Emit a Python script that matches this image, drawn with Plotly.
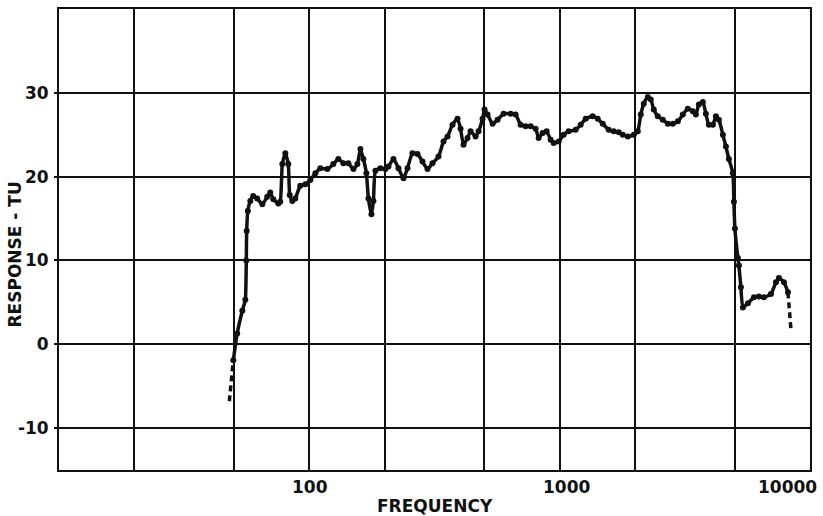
import math
import plotly.graph_objects as go

# ---- data ----
freq_low_dash = [47.9, 49.2, 49.7]
resp_low_dash = [-6.8, -2.6, -1.9]

freq = [49.7, 51.5, 54.0, 55.5, 56.0, 56.2, 56.8, 58.1, 59.7, 61.9, 64.9, 67.9, 69.8, 71.8, 75.2,
        76.5, 78.0, 80.2, 82.4, 83.5, 85.5, 87.9, 92.0, 96.4, 100.9, 105.7, 110.7, 118.0, 124.7,
        130.6, 136.8, 143.2, 150.0, 155.6, 160.0, 164.4, 169.0, 172.2, 177.0, 180.3, 183.7, 192.3,
        201.4, 207.0, 216.8, 227.0, 237.7, 246.6, 258.2, 270.4, 283.1, 296.5, 310.5, 328.1, 343.6,
        356.5, 373.3, 390.8, 401.8, 413.0, 428.5, 440.6, 461.3, 474.3, 492.0, 501.2, 515.2, 539.5,
        564.9, 597.0, 636.8, 666.8, 698.2, 731.1, 765.6, 801.7, 824.2, 855.1, 887.2, 920.4, 946.2,
        990.8, 1037.5, 1086.4, 1158.8, 1213.4, 1270.6, 1355.2, 1419.1, 1485.9, 1570.4, 1644.4,
        1721.9, 1786.5, 1870.8, 1977.0, 2051.2, 2108.6, 2167.6, 2249.1, 2312.1, 2376.8, 2466.0,
        2582.2, 2703.9, 2831.3, 2964.8, 3104.5, 3250.9, 3404.1, 3499.5, 3597.5, 3732.5, 3837.1,
        3944.6, 4092.6, 4207.3, 4325.1, 4487.4, 4613.2, 4742.4, 4920.4, 4966.0, 5012.0, 5152.0,
        5200.0, 5296.0, 5395.0, 5649.0, 5970.0, 6252.0, 6546.0, 6982.0, 7311.0, 7516.0, 7870.0,
        8166.0]
resp = [-1.9, 1.3, 4.0, 5.3, 10.0, 13.5, 15.9, 17.1, 17.7, 17.4, 16.7, 17.6, 18.1, 17.3, 16.8,
        17.0, 21.5, 22.8, 21.5, 17.8, 17.1, 17.4, 18.9, 19.1, 19.6, 20.4, 21.0, 20.9, 21.5,
        22.1, 21.6, 21.6, 20.9, 21.5, 23.3, 22.1, 20.4, 17.4, 15.5, 17.1, 20.7, 21.0,
        20.9, 21.2, 22.1, 21.0, 19.8, 21.0, 22.8, 22.7, 21.8, 20.9, 21.6, 22.4, 24.2,
        24.8, 26.2, 26.9, 25.7, 23.8, 24.6, 25.4, 24.8, 25.4, 26.9, 28.0, 27.4, 26.3,
        26.8, 27.5, 27.5, 27.4, 26.2, 26.0, 26.0, 25.7, 24.6, 25.2, 25.4, 24.4, 24.0,
        24.2, 25.0, 25.4, 25.6, 26.2, 26.9, 27.2, 26.9, 26.3, 25.6, 25.4,
        25.3, 25.0, 24.8, 25.0, 25.4, 27.4, 28.7, 29.5, 29.2, 28.0, 27.2,
        26.8, 26.3, 26.3, 26.6, 27.4, 28.1, 27.8, 27.4, 28.6, 28.9, 27.5,
        26.2, 26.2, 27.2, 26.8, 25.0, 23.6, 22.1, 20.4, 17.0, 13.8, 10.3,
        9.4, 6.8, 4.4, 4.9, 5.6, 5.7, 5.6, 6.0, 7.4, 7.9, 7.4,
        6.2]

freq_high_dash = [8166.0, 8300.0, 8395.0]
resp_high_dash = [6.2, 4.0, 1.7]

x_grid = [10, 20, 50, 100, 200, 500, 1000, 2000, 5000, 10000]
x_labels = {100: "100", 1000: "1000", 10000: "10000"}
y_ticks = [-10, 0, 10, 20, 30]

INK = "#111111"
FONT = "DejaVu Sans"
LABEL_FONT = dict(family=FONT, size=17, color=INK, weight="bold")

fig = go.Figure()
fig.add_trace(go.Scatter(x=freq, y=resp, mode="lines+markers",
                         line=dict(color=INK, width=3.5, shape="spline", smoothing=0.5),
                         marker=dict(color=INK, size=6), showlegend=False))
for fx, fy in ((freq_low_dash, resp_low_dash), (freq_high_dash, resp_high_dash)):
    fig.add_trace(go.Scatter(x=fx, y=fy, mode="lines",
                             line=dict(color=INK, width=3.5, dash="6px,4px"), showlegend=False))

shifts = {100: 1, 1000: 7, 10000: -23}
for v, t in x_labels.items():
    fig.add_annotation(x=math.log10(v), y=0, xref="x", yref="paper", text=t, showarrow=False,
                       yanchor="top", yshift=-5, xshift=shifts[v], font=LABEL_FONT)

fig.add_annotation(x=0.5, y=0, xref="paper", yref="paper", text="FREQUENCY", showarrow=False,
                   yanchor="top", yshift=-24, xshift=0, font=LABEL_FONT)
fig.add_annotation(x=0, y=0.5, xref="paper", yref="paper", text="RESPONSE - TU", showarrow=False,
                   textangle=-90, xanchor="center", xshift=-45, yshift=-15, font=LABEL_FONT)

fig.update_xaxes(type="log", range=[1, 4], tickvals=x_grid, showticklabels=False,
                 showgrid=True, gridcolor=INK, gridwidth=2, zeroline=False,
                 showline=True, linecolor=INK, linewidth=2, mirror=True, ticks="")
fig.update_yaxes(range=[-15, 40], tickvals=y_ticks, ticktext=[str(v) for v in y_ticks],
                 showgrid=True, gridcolor=INK, gridwidth=2, zeroline=False,
                 showline=True, linecolor=INK, linewidth=2, mirror=True,
                 ticks="outside", ticklen=3, tickwidth=2, tickcolor=INK,
                 tickfont=LABEL_FONT, ticklabelstandoff=2)

fig.update_layout(width=823, height=516, margin=dict(l=59, r=13, t=9, b=46, autoexpand=False),
                  paper_bgcolor="white", plot_bgcolor="white",
                  font=dict(family=FONT, color=INK))

fig.write_html("out.html", config={"displayModeBar": False},
               post_script="document.body.style.margin='0px';")
